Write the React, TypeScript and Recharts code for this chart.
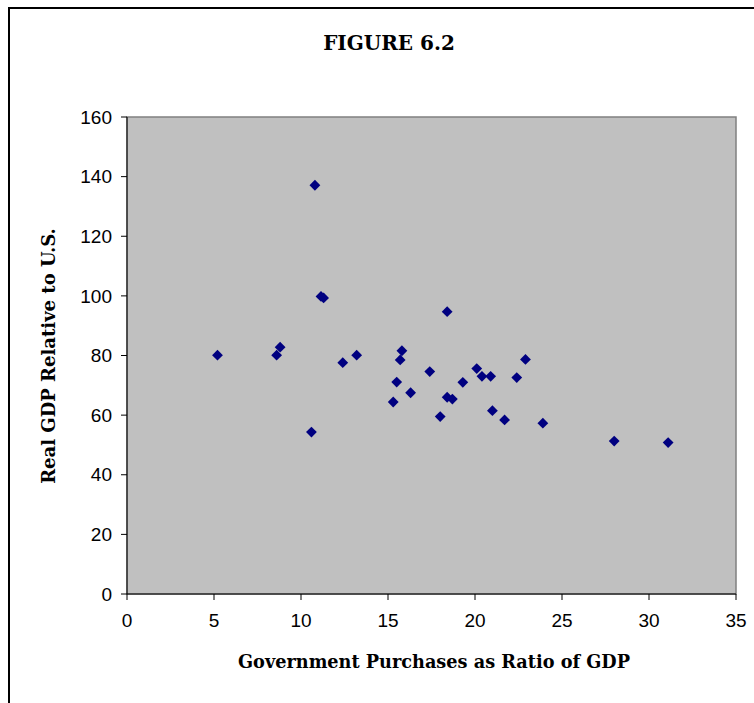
import React from 'react';
import {
  ScatterChart,
  Scatter,
  XAxis,
  YAxis,
  ReferenceArea,
} from 'recharts';

// Government purchases as % of GDP vs real GDP relative to the U.S.
const govPurchases = [
  5.2, 8.6, 8.8, 10.8, 11.15, 11.3, 10.6, 12.4, 13.2, 15.8, 15.7, 17.4, 15.5,
  16.3, 15.3, 18.0, 18.4, 22.9, 20.1, 20.4, 20.9, 22.4, 19.3, 18.4, 18.7, 21.0,
  21.7, 23.9, 28.0, 31.1,
];
const realGdp = [
  80.1, 80.1, 82.8, 137.1, 99.8, 99.3, 54.3, 77.6, 80.1, 81.6, 78.5, 74.6, 71.1,
  67.5, 64.4, 59.5, 94.7, 78.7, 75.6, 73.0, 73.0, 72.6, 71.0, 66.0, 65.4, 61.5,
  58.4, 57.3, 51.3, 50.8,
];
const xTicks = [0, 5, 10, 15, 20, 25, 30, 35];
const yTicks = [0, 20, 40, 60, 80, 100, 120, 140, 160];

const points = govPurchases.map((x, i) => ({ x, y: realGdp[i] }));

const serif = '"DejaVu Serif", serif';
const sans = '"Liberation Sans", Arial, sans-serif';

// Excel-style square diamond marker
function Diamond(props: any) {
  const { cx, cy } = props;
  const r = 5.4;
  return (
    <path
      d={`M${cx},${cy - r}L${cx + r},${cy}L${cx},${cy + r}L${cx - r},${cy}Z`}
      fill="#000080"
    />
  );
}

export default function App() {
  return (
    <div style={{ position: 'absolute', left: 0, top: 0, width: 754, height: 703, overflow: 'hidden', background: '#fff' }}>
      {/* outer frame, cut off on the right and bottom */}
      <div
        style={{
          position: 'absolute',
          left: 8,
          top: 7,
          width: 800,
          height: 800,
          border: '2px solid #000',
        }}
      />
      <div
        style={{
          position: 'absolute',
          left: 0,
          width: 778,
          top: 31,
          textAlign: 'center',
          fontFamily: serif,
          fontWeight: 'bold',
          fontSize: 20,
        }}
      >
        FIGURE 6.2
      </div>
      <div
        style={{
          position: 'absolute',
          left: 48,
          top: 356,
          transform: 'translate(-50%, -50%) rotate(-90deg)',
          whiteSpace: 'nowrap',
          fontFamily: serif,
          fontWeight: 'bold',
          fontSize: 18,
        }}
      >
        Real GDP Relative to U.S.
      </div>
      <div
        style={{
          position: 'absolute',
          left: 0,
          width: 868,
          top: 651,
          textAlign: 'center',
          fontFamily: serif,
          fontWeight: 'bold',
          fontSize: 17.7,
        }}
      >
        Government Purchases as Ratio of GDP
      </div>

      <div style={{ position: 'absolute', left: 0, top: 0 }}>
        <ScatterChart
          width={754}
          height={703}
          margin={{ top: 117, right: 18, bottom: 69, left: 0 }}
        >
          <XAxis
            type="number"
            dataKey="x"
            domain={[0, 35]}
            ticks={xTicks}
            interval={0}
            height={40}
            tickSize={6}
            tickMargin={14}
            axisLine={{ stroke: '#000' }}
            tickLine={{ stroke: '#000' }}
            tick={{ fill: '#000', fontSize: 19, fontFamily: sans }}
          />
          <YAxis
            type="number"
            dataKey="y"
            domain={[0, 160]}
            ticks={yTicks}
            interval={0}
            width={127}
            tickSize={6}
            tickMargin={9}
            axisLine={{ stroke: '#000' }}
            tickLine={{ stroke: '#000' }}
            tick={{ fill: '#000', fontSize: 19, fontFamily: sans }}
          />
          <ReferenceArea
            x1={0}
            x2={35}
            y1={0}
            y2={160}
            fill="#c0c0c0"
            fillOpacity={1}
            stroke="#808080"
            strokeWidth={1.5}
            ifOverflow="visible"
          />
          <Scatter data={points} shape={Diamond} isAnimationActive={false} />
        </ScatterChart>
      </div>
    </div>
  );
}
